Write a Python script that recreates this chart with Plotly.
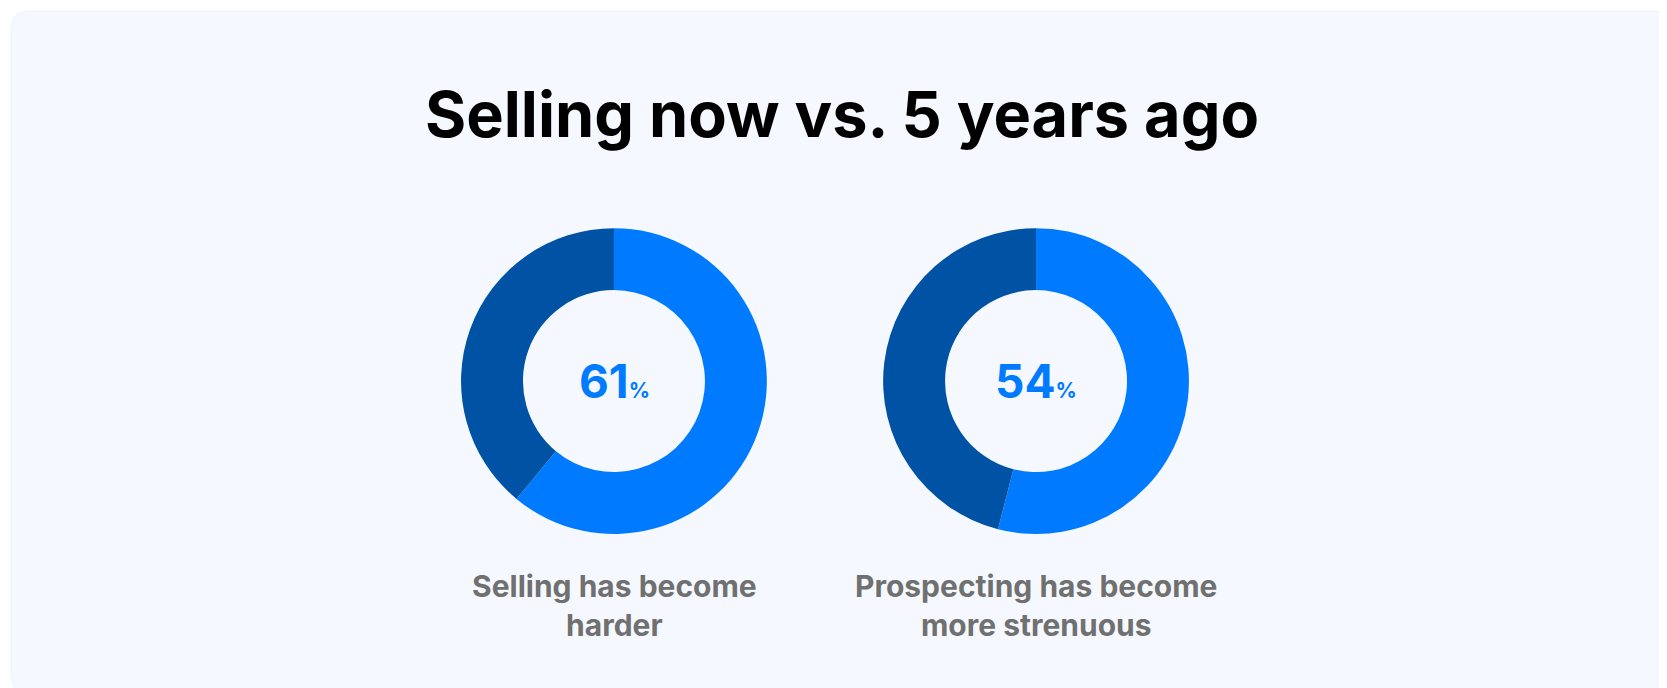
import plotly.graph_objects as go

title = "Selling now vs. 5 years ago"
labels = ["Yes", "No"]
values_selling = [61, 39]
values_prospect = [54, 46]
captions = ["Selling has become<br>harder", "Prospecting has become<br>more strenuous"]
center_texts = ["61", "54"]
colors = ["#007BFF", "#0053A4"]

W, H = 1667, 688
fig = go.Figure()
doms = [[0.2717, 0.4553], [0.5249, 0.7085]]
for vals, dx in zip([values_selling, values_prospect], doms):
    fig.add_trace(go.Pie(labels=labels, values=vals, hole=0.595, sort=False,
                         direction="clockwise", rotation=0,
                         marker=dict(colors=colors, line=dict(width=0)),
                         textinfo="none", hoverinfo="label+percent",
                         domain=dict(x=dx, y=[0.2355, 0.680]), showlegend=False))

# rounded panel background
r = 18; x0, y0, x1, y1 = 3, 3, W - 3, H - 3
path = (f"M{x0+r},{y0} L{x1-r},{y0} Q{x1},{y0} {x1},{y0+r} L{x1},{y1-r} Q{x1},{y1} {x1-r},{y1} "
        f"L{x0+r},{y1} Q{x0},{y1} {x0},{y1-r} L{x0},{y0+r} Q{x0},{y0} {x0+r},{y0} Z")
fig.add_shape(type="path", path=path, xref="x", yref="y",
              fillcolor="#F5F9FF", line=dict(color="#EEF2F8", width=1), layer="below")

anns = [dict(x=W/2, y=H-106, text="<b>" + title + "</b>", showarrow=False,
             font=dict(family="Inter", size=63, color="#000000"), xref="x", yref="y")]
for cx, t, cap in zip([606, 1028], center_texts, captions):
    anns.append(dict(x=cx, y=H-373, xref="x", yref="y", showarrow=False,
                     text=f"<b>{t}</b><b><span style='font-size:21px'>%</span></b>",
                     font=dict(family="Inter", size=46, color="#007BFF")))
    anns.append(dict(x=cx, y=H-597, xref="x", yref="y", showarrow=False,
                     text="<b>" + cap + "</b>",
                     font=dict(family="Inter", size=30, color="#707070")))

fig.update_layout(width=W, height=H, margin=dict(l=0, r=0, t=0, b=0),
                  paper_bgcolor="#FFFFFF", plot_bgcolor="rgba(0,0,0,0)",
                  xaxis=dict(range=[0, W], visible=False, fixedrange=True),
                  yaxis=dict(range=[0, H], visible=False, fixedrange=True),
                  annotations=anns)
fig.write_html("out.html")
